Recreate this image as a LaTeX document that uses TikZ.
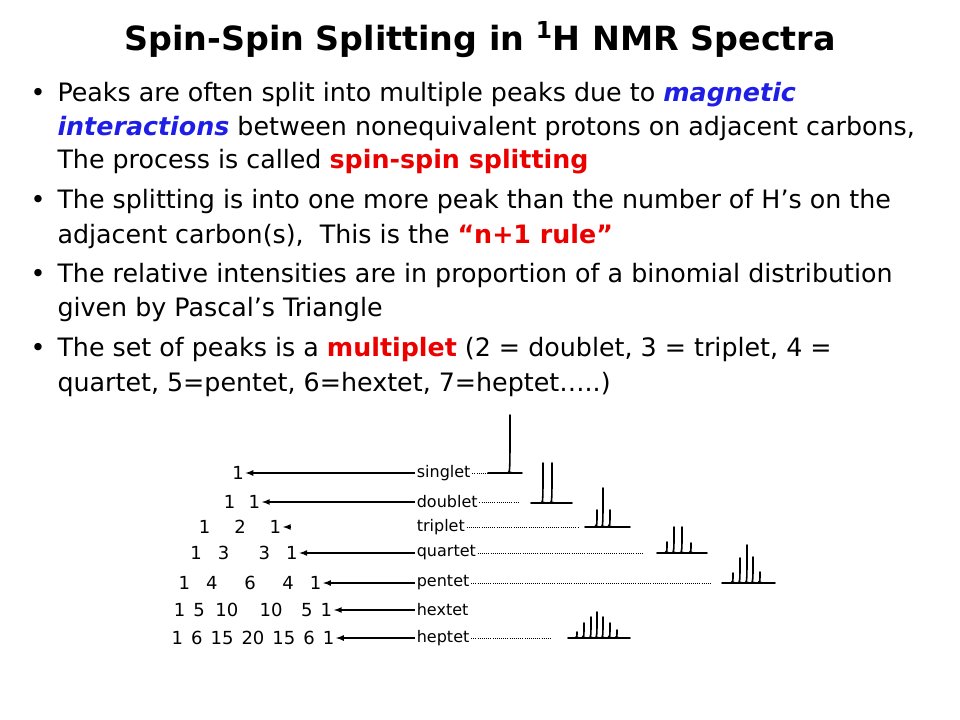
\documentclass[tikz,border=0pt]{standalone}
\usepackage{fontspec}
\setmainfont{DejaVu Sans}
\definecolor{keyblue}{RGB}{30,30,230}
\definecolor{keyred}{RGB}{235,0,0}
\tikzset{every picture/.style={line width=0.75pt}}
\tikzset{
  bodytext/.style={anchor=west,inner sep=0pt,font=\fontsize{19}{22}\selectfont},
  pascal/.style={inner sep=1pt,font=\fontsize{13.5}{15}\selectfont},
  kind/.style={anchor=west,inner sep=1pt,font=\fontsize{12}{14}\selectfont},
  tick/.style={-latex,line width=1pt},
  lead/.style={densely dotted,line width=0.6pt},
  trace/.style={line width=1.2pt,line cap=round,line join=round}
}
\newcommand{\peaks}[4]{% baseline y, from x, to x, list of x/top
  \draw[trace] (#2,#1) -- (#3,#1);
  \foreach \px/\py in {#4} {\draw[trace] (\px-2,#1) .. controls (\px,#1-1) .. (\px,\py) (\px,#1) .. controls (\px,#1-1) .. (\px+2,#1);}
}
\begin{document}
\begin{tikzpicture}[x=0.75pt,y=0.75pt,yscale=-1,xscale=1]
\useasboundingbox (0,0) rectangle (960,720);

% Title
\node[font=\bfseries\fontsize{25}{29}\selectfont] (title) at (480,40) {Spin-Spin Splitting in \textsuperscript{1}H NMR Spectra};

% Bullets
\foreach \by in {95,202,276,350} \node[bodytext] at (30,\by) {•};
\node[bodytext] (l1) at (57,95) {Peaks are often split into multiple peaks due to \textcolor{keyblue}{\bfseries\itshape magnetic}};
\node[bodytext] (l2) at (57,129) {\textcolor{keyblue}{\bfseries\itshape interactions} between nonequivalent protons on adjacent carbons,};
\node[bodytext] (l3) at (57,162) {The process is called \textcolor{keyred}{\bfseries spin-spin splitting}};
\node[bodytext] (l4) at (57,202) {The splitting is into one more peak than the number of H’s on the};
\node[bodytext] (l5) at (57,237) {adjacent carbon(s),\ \ This is the \textcolor{keyred}{\bfseries “n+1 rule”}};
\node[bodytext] (l6) at (57,276) {The relative intensities are in proportion of a binomial distribution};
\node[bodytext] (l7) at (57,310) {given by Pascal’s Triangle};
\node[bodytext] (l8) at (57,350) {The set of peaks is a \textcolor{keyred}{\bfseries multiplet} (2 = doublet, 3 = triplet, 4 =};
\node[bodytext] (l9) at (57,385) {quartet, 5=pentet, 6=hextet, 7=heptet…..)};

% Pascal's triangle
\node[pascal] (p1) at (238,473) {1};
\node[pascal] (p2) at (242,502) {1\hspace{10pt}1};
\node[pascal] (p3) at (240,527) {1\hspace{18pt}2\hspace{18pt}1};
\node[pascal] (p4) at (244,553) {1\hspace{12pt}3\hspace{22pt}3\hspace{12pt}1};
\node[pascal] (p5) at (250,583) {1\hspace{12pt}4\hspace{20pt}6\hspace{20pt}4\hspace{12pt}1};
\node[pascal] (p6) at (253,610) {1\hspace{6pt}5\hspace{8pt}10\hspace{16pt}10\hspace{14pt}5\hspace{6pt}1};
\node[pascal] (p7) at (253,638) {1\hspace{6pt}6\hspace{6pt}15\hspace{6pt}20\hspace{6pt}15\hspace{6pt}6\hspace{6pt}1};

% Names
\node[kind] (k1) at (415,473) {singlet};
\node[kind] (k2) at (415,502) {doublet};
\node[kind] (k3) at (415,527) {triplet};
\node[kind] (k4) at (415,553) {quartet};
\node[kind] (k5) at (415,583) {pentet};
\node[kind] (k6) at (415,610) {hextet};
\node[kind] (k7) at (415,638) {heptet};

% Arrows
\draw[tick] (k1.west) -- (p1.east);
\draw[tick] (k2.west) -- (p2.east);
\coordinate (t3) at (291,527);
\draw[tick] (t3) -- (p3.east);
\foreach \r in {4,5,6,7} \draw[tick] (k\r.west) -- (p\r.east);

% Dotted leaders
\draw[lead] (k1.east) -- ++(22,0);
\draw[lead] (k2.east) -- ++(40,0);
\draw[lead] (k3.east) -- ++(112,0);
\draw[lead] (k4.east) -- ++(165,0);
\draw[lead] (k5.east) -- ++(240,0);
\draw[lead] (k7.east) -- ++(80,0);

% Spectra
\peaks{473}{488}{522}{510/415}
\peaks{503}{531}{572}{543/463,552/463}
\peaks{527}{585}{630}{597/510,603/488,610/510}
\peaks{553}{657}{707}{667/542,674/527,682/527,691/543}
\peaks{583}{722}{775}{733/573,740/558,747/545,753/557,760/572}
\peaks{638}{568}{630}{577/632,584/623,591/617,597/612,603/617,610/623,617/630}
\end{tikzpicture}
\end{document}
